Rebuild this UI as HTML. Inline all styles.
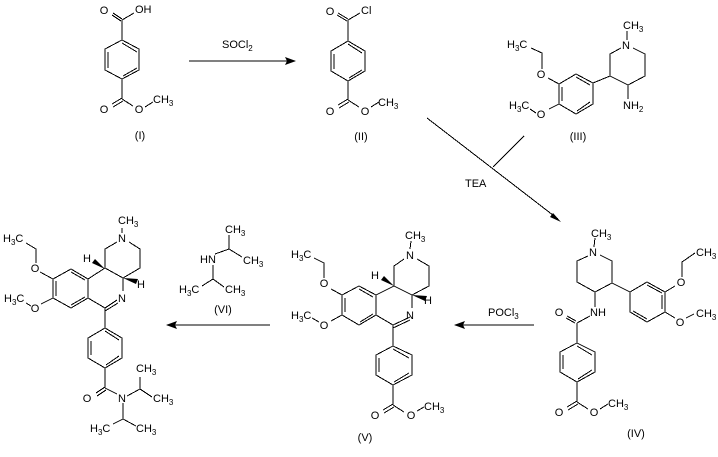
<!DOCTYPE html>
<html>
<head>
<meta charset="utf-8">
<style>
html,body{margin:0;padding:0;background:#fff;width:718px;height:457px;overflow:hidden}
svg{display:block}
text{font-family:"Liberation Sans",sans-serif;font-size:11px;fill:#000}
.m{text-anchor:middle}
tspan.s{font-size:8px}
</style>
</head>
<body>
<svg width="718" height="457" viewBox="0 0 718 457" xmlns="http://www.w3.org/2000/svg">
<g fill="none" stroke="#000" stroke-width="1" shape-rendering="crispEdges">
<!-- I -->
<path d="M122 40L139 49L139 70L122 79L105 70L105 49Z"/>
<path d="M122 43L137 52M108 52L108 68M123 76L137 68"/>
<path d="M122 20L122 40M122 79L122 99"/>
<path d="M113 13L122 19M112 15L121 21M122 20L134 13"/>
<path d="M122 98L112 104M123 101L113 107M122 99L133 106M145 107L153 102"/>
<!-- II -->
<path d="M348 41L365 51L365 71L348 81L331 71L331 51Z"/>
<path d="M348 44L362 53M334 54L334 69M349 78L362 70"/>
<path d="M348 20L348 41M348 81L348 100"/>
<path d="M338 13L348 19M337 15L347 21M348 20L360 13"/>
<path d="M348 99L338 105M349 102L339 108M348 100L359 107M371 107L379 102"/>
<!-- III -->
<path d="M627 31L627 40M621 48L610 54L610 76L628 85L645 76L645 54L633 48M628 85L628 99"/>
<path d="M610 76L593 83"/>
<path d="M593 83L576 74L559 84L559 104L576 114L593 104Z"/>
<path d="M576 77L590 85M562 87L562 101L562 87M577 111L590 102"/>
<path d="M559 84L548 78M542 69L542 53L531 48M559 104L549 109M536 113L530 109"/>
<!-- IV -->
<path d="M595 238L594 247M588 256L577 261L577 282L595 292L612 283L612 261L600 255M595 292L595 307"/>
<path d="M612 283L630 292"/>
<path d="M630 292L647 282L665 292L665 312L647 322L630 312Z"/>
<path d="M647 285L662 293M662 295L662 309M633 311L647 319"/>
<path d="M665 292L675 286M682 277L682 262L695 253M665 312L675 318M686 318L694 314"/>
<path d="M590 316L577 323M567 316L576 321M566 318L575 323M577 323L577 343"/>
<path d="M577 343L595 352L595 372L577 382L560 372L560 352Z"/>
<path d="M577 346L592 355M563 355L563 369M578 379L592 370"/>
<path d="M577 382L577 402M577 401L567 407M578 404L568 410M577 402L588 409M600 409L608 404"/>
<!-- V -->
<path d="M411 241L410 249M404 259L394 266L394 286L412 295L429 286L429 266L417 259"/>
<path d="M394 286L376 295L376 315L393 325L410 317M393 328L410 320M412 295L412 308"/>
<path d="M376 295L359 286L342 295L342 315L359 325L376 315"/>
<path d="M359 289L373 297M345 298L345 312M360 322L373 314"/>
<path d="M342 295L331 289M324 278L324 263L314 258M342 315L331 321M319 322L312 318"/>
<path d="M393 325L393 346"/>
<path d="M393 346L412 355L412 375L393 385L376 375L376 355Z"/>
<path d="M393 349L409 358M379 358L379 372M394 382L409 373"/>
<path d="M393 385L393 405M393 404L383 410M394 407L384 413M393 405L404 412M417 411L424 407"/>
<!-- VI -->
<path d="M215 254L229 249L229 235M229 249L242 257M213 265L213 279L202 286M213 279L224 287"/>
<!-- VII -->
<path d="M122 228L122 233M117 242L105 249L105 268L123 278L140 268L140 249L129 242"/>
<path d="M105 268L88 279L88 298L105 308L117 300M105 311L118 303M123 278L123 291"/>
<path d="M88 279L71 269L53 279L53 298L71 308L88 298"/>
<path d="M71 272L85 280M56 281L56 296M71 305L85 297"/>
<path d="M53 279L40 272M36 263L36 249L26 243M53 298L41 304M31 306L26 303"/>
<path d="M105 308L105 328"/>
<path d="M105 328L122 338L122 358L105 368L88 358L88 338Z"/>
<path d="M105 331L119 340M91 341L91 355M106 365L119 356"/>
<path d="M105 368L105 388M105 387L96 393M106 390L97 396M105 388L117 394"/>
<path d="M127 396L140 389L140 377M140 389L152 397M123 403L123 419L113 424M123 419L136 426"/>
<!-- arrows -->
<path d="M189 61L295 61M534 325L455 325M270 325L167 325"/>
<path d="M427 118L558 219M524 136L493 167"/>
</g>
<g fill="#000" stroke="none">
<path d="M296 61L285 57L287 61L285 65Z"/>
<path d="M454 325L465 321L463 325L465 329Z"/>
<path d="M166 325L177 321L175 325L177 329Z"/>
<path d="M561 222L550 217L553 213Z"/>
<path d="M105 269L92 263L95 259Z"/>
<path d="M123 278L138 279L136 284Z"/>
<path d="M394 286L381 280L384 276Z"/>
<path d="M412 295L427 296L425 301Z"/>
</g>
<g>
<!-- I -->
<text class="m" x="104" y="14">O</text><text x="135" y="13">OH</text>
<text class="m" x="104" y="113">O</text><text class="m" x="139" y="113">O</text>
<text x="153" y="103">CH<tspan class="s" dy="3">3</tspan></text>
<text class="m" x="140" y="139">(I)</text>
<text x="222" y="48">SOCl<tspan class="s" dy="3">2</tspan></text>
<!-- II -->
<text class="m" x="330" y="15">O</text><text x="361" y="14">Cl</text>
<text class="m" x="330" y="115">O</text><text class="m" x="365" y="115">O</text>
<text x="378" y="106">CH<tspan class="s" dy="3">3</tspan></text>
<text class="m" x="361" y="140">(II)</text>
<!-- III -->
<text x="623" y="29">CH<tspan class="s" dy="3">3</tspan></text>
<text class="m" x="626" y="49">N</text>
<text x="623" y="109">NH<tspan class="s" dy="3">2</tspan></text>
<text class="m" x="541" y="78">O</text><text class="m" x="541" y="118">O</text>
<text x="507" y="48">H<tspan class="s" dy="3">3</tspan><tspan dy="-3">C</tspan></text>
<text x="509" y="109">H<tspan class="s" dy="3">3</tspan><tspan dy="-3">C</tspan></text>
<text class="m" x="578" y="140">(III)</text>
<text x="465" y="187">TEA</text>
<!-- IV -->
<text x="591" y="237">CH<tspan class="s" dy="3">3</tspan></text>
<text class="m" x="593" y="256">N</text>
<text x="590" y="316">NH</text>
<text class="m" x="559" y="316">O</text>
<text class="m" x="681" y="286">O</text><text class="m" x="680" y="326">O</text>
<text x="696" y="256">CH<tspan class="s" dy="3">3</tspan></text>
<text x="696" y="317">CH<tspan class="s" dy="3">3</tspan></text>
<text class="m" x="559" y="416">O</text><text class="m" x="594" y="416">O</text>
<text x="608" y="407">CH<tspan class="s" dy="3">3</tspan></text>
<text class="m" x="636" y="437">(IV)</text>
<text x="488" y="316">POCl<tspan class="s" dy="3">3</tspan></text>
<!-- V -->
<text x="405" y="239">CH<tspan class="s" dy="3">3</tspan></text>
<text class="m" x="410" y="259">N</text>
<text class="m" x="410" y="319">N</text>
<text class="m" x="375" y="279">H</text><text class="m" x="428" y="304">H</text>
<text class="m" x="324" y="287">O</text><text class="m" x="324" y="329">O</text>
<text x="291" y="258">H<tspan class="s" dy="3">3</tspan><tspan dy="-3">C</tspan></text>
<text x="291" y="319">H<tspan class="s" dy="3">3</tspan><tspan dy="-3">C</tspan></text>
<text class="m" x="375" y="419">O</text><text class="m" x="411" y="419">O</text>
<text x="424" y="410">CH<tspan class="s" dy="3">3</tspan></text>
<text class="m" x="365" y="441">(V)</text>
<!-- VI -->
<text x="200" y="263">HN</text>
<text x="225" y="233">CH<tspan class="s" dy="3">3</tspan></text>
<text x="243" y="264">CH<tspan class="s" dy="3">3</tspan></text>
<text x="179" y="293">H<tspan class="s" dy="3">3</tspan><tspan dy="-3">C</tspan></text>
<text x="225" y="293">CH<tspan class="s" dy="3">3</tspan></text>
<text class="m" x="223" y="313">(VI)</text>
<!-- VII -->
<text x="118" y="224">CH<tspan class="s" dy="3">3</tspan></text>
<text class="m" x="122" y="242">N</text>
<text class="m" x="122" y="302">N</text>
<text class="m" x="87" y="262">H</text><text class="m" x="141" y="288">H</text>
<text class="m" x="35" y="272">O</text><text class="m" x="35" y="312">O</text>
<text x="3" y="242">H<tspan class="s" dy="3">3</tspan><tspan dy="-3">C</tspan></text>
<text x="4" y="302">H<tspan class="s" dy="3">3</tspan><tspan dy="-3">C</tspan></text>
<text class="m" x="87" y="402">O</text><text class="m" x="122" y="402">N</text>
<text x="136" y="372">CH<tspan class="s" dy="3">3</tspan></text>
<text x="153" y="402">CH<tspan class="s" dy="3">3</tspan></text>
<text x="90" y="432">H<tspan class="s" dy="3">3</tspan><tspan dy="-3">C</tspan></text>
<text x="136" y="432">CH<tspan class="s" dy="3">3</tspan></text>
</g>
</svg>
</body>
</html>
